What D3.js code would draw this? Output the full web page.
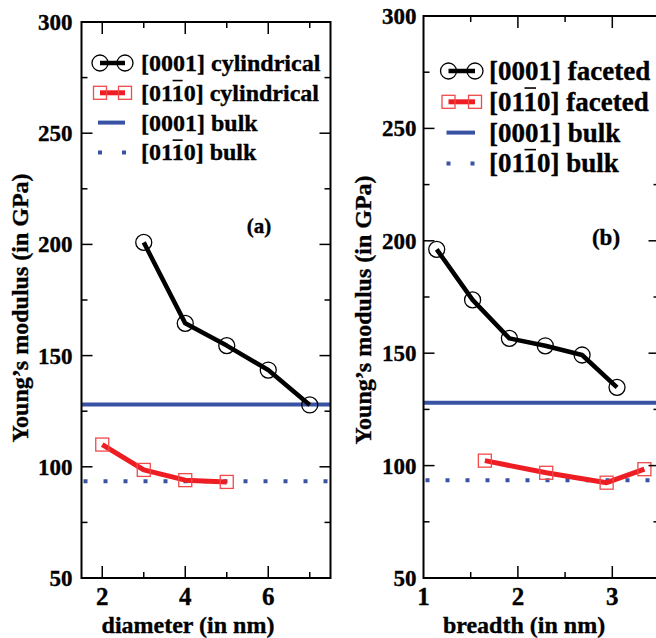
<!DOCTYPE html>
<html><head><meta charset="utf-8">
<script src="https://cdn.jsdelivr.net/npm/d3@7"></script>
<style>
html,body{margin:0;padding:0;background:#fff;}
svg{display:block;}
text{font-family:"Liberation Serif","Tinos","Times New Roman","DejaVu Serif",serif;font-weight:bold;fill:#000;stroke:#000;stroke-width:0.35px;}
</style></head>
<body><svg id="c" width="656" height="638"></svg>
<script>
// ---- data ----
const diameterCyl0001 = [3, 4, 5, 6, 7];
const youngCyl0001 = [200.9, 164.5, 154.5, 143.5, 127.8];
const diameterCyl0110 = [2, 3, 4, 5];
const youngCyl0110 = [110, 98.6, 94, 93.2];
const breadthFac0001 = [1.14, 1.52, 1.91, 2.29, 2.68, 3.05];
const youngFac0001 = [196.2, 173.7, 156.6, 153.3, 149.2, 134.8];
const breadthFac0110 = [1.65, 2.30, 2.94, 3.34];
const youngFac0110 = [102.2, 96.8, 92.4, 98.4];
const bulk0001 = 128;
const bulk0110 = 93.5;
const yTicks = [50, 100, 150, 200, 250, 300];
const yMinor = [75, 125, 175, 225, 275];
const xTicksA = [2, 4, 6];
const xMinorA = [3, 5, 7];
const xTicksB = [1, 2, 3];
const xMinorB = [1.5, 2.5];
const legendA = ["[0001] cylindrical", "[01\u203E10] cylindrical", "[0001] bulk", "[01\u203E10] bulk"];
const legendB = ["[0001] faceted", "[01\u203E10] faceted", "[0001] bulk", "[01\u203E10] bulk"];

const svg = d3.select("#c");
const BLUE = "#3953a4", RED = "#ee1d23", RED2 = "#f04a4a";

function panel(cfg) {
  const {x, y} = cfg;
  const g = svg.append("g");
  const [x0, x1] = x.range(), [y0, y1] = y.range();
  const clipId = "clip" + cfg.id;
  svg.append("clipPath").attr("id", clipId).append("rect")
    .attr("x", x0).attr("y", y1).attr("width", x1 - x0).attr("height", y0 - y1);

  // bulk lines
  const pg = g.append("g").attr("clip-path", `url(#${clipId})`);
  pg.append("line").attr("x1", x0).attr("x2", x1).attr("y1", y(bulk0001)).attr("y2", y(bulk0001))
    .attr("stroke", BLUE).attr("stroke-width", 4);
  pg.append("line").attr("x1", x0 + 2).attr("x2", x1).attr("y1", y(bulk0110)).attr("y2", y(bulk0110))
    .attr("stroke", BLUE).attr("stroke-width", 4).attr("stroke-dasharray", "4,16");

  const line = d3.line().x(d => x(d[0])).y(d => y(d[1]));
  const blk = cfg.bx.map((v, i) => [v, cfg.by[i]]);
  const red = cfg.rx.map((v, i) => [v, cfg.ry[i]]);
  pg.append("path").attr("d", line(red)).attr("fill", "none").attr("stroke", RED)
    .attr("stroke-width", 5).attr("stroke-linejoin", "round");
  pg.selectAll(".sq").data(red).join("rect")
    .attr("x", d => x(d[0]) - 6.5).attr("y", d => y(d[1]) - 6.5)
    .attr("width", 13).attr("height", 13).attr("fill", "none")
    .attr("stroke", RED2).attr("stroke-width", 1.3);
  pg.append("path").attr("d", line(blk)).attr("fill", "none").attr("stroke", "#000")
    .attr("stroke-width", 4.5).attr("stroke-linejoin", "round");
  pg.selectAll(".ci").data(blk).join("circle")
    .attr("cx", d => x(d[0])).attr("cy", d => y(d[1])).attr("r", 8)
    .attr("fill", "none").attr("stroke", "#000").attr("stroke-width", 1.3);

  // frame
  g.append("rect").attr("x", x0).attr("y", y1).attr("width", x1 - x0).attr("height", y0 - y1)
    .attr("fill", "none").attr("stroke", "#000").attr("stroke-width", 2);

  // ticks
  const tk = g.append("g").attr("stroke", "#000").attr("stroke-width", 1.5);
  const yt = yTicks.filter(v => v > 50 && v < 300);
  yt.forEach(v => {
    tk.append("line").attr("x1", x0).attr("x2", x0 + 11).attr("y1", y(v)).attr("y2", y(v));
    tk.append("line").attr("x1", x1).attr("x2", x1 - 11).attr("y1", y(v)).attr("y2", y(v));
  });
  yMinor.forEach(v => {
    tk.append("line").attr("x1", x0).attr("x2", x0 + 6).attr("y1", y(v)).attr("y2", y(v));
    tk.append("line").attr("x1", x1).attr("x2", x1 - 6).attr("y1", y(v)).attr("y2", y(v));
  });
  cfg.xt.filter(v => x(v) > x0 + 1).forEach(v => {
    tk.append("line").attr("x1", x(v)).attr("x2", x(v)).attr("y1", y0).attr("y2", y0 - 12);
    tk.append("line").attr("x1", x(v)).attr("x2", x(v)).attr("y1", y1).attr("y2", y1 + 12);
  });
  cfg.xm.forEach(v => {
    tk.append("line").attr("x1", x(v)).attr("x2", x(v)).attr("y1", y0).attr("y2", y0 - 6);
    tk.append("line").attr("x1", x(v)).attr("x2", x(v)).attr("y1", y1).attr("y2", y1 + 6);
  });

  // tick labels
  g.selectAll(".yl").data(yTicks).join("text")
    .attr("x", x0 - cfg.ypad).attr("y", d => y(d)).attr("dy", "0.35em")
    .attr("text-anchor", "end").attr("font-size", 23).text(d => d);
  g.selectAll(".xl").data(cfg.xt).join("text")
    .attr("x", d => x(d)).attr("y", 605)
    .attr("text-anchor", "middle").attr("font-size", 25).text(d => d);

  // axis titles
  g.append("text").attr("x", cfg.xtx).attr("y", 633).attr("text-anchor", "middle")
    .attr("font-size", 24).text(cfg.xtitle);
  g.append("text").attr("transform", `translate(${cfg.ytx},${cfg.yty}) rotate(-90)`)
    .attr("text-anchor", "middle").attr("font-size", 24).text("Young\u2019s modulus (in GPa)");

  // panel label
  g.append("text").attr("x", cfg.lab[0]).attr("y", cfg.lab[1]).attr("text-anchor", "middle")
    .attr("font-size", cfg.lab[2]).text(cfg.label);

  // legend
  const L = cfg.leg;
  const fs = L.fs;
  if (L.box) {
    g.append("rect").attr("x", L.box[0]).attr("y", L.box[1])
      .attr("width", L.box[2]).attr("height", L.box[3]).attr("fill", "#fff");
  }
  cfg.legend.forEach((t, i) => {
    const ly = L.y0 + i * L.dy;
    if (i === 0) {
      g.append("line").attr("x1", L.a).attr("x2", L.b).attr("y1", ly).attr("y2", ly)
        .attr("stroke", "#000").attr("stroke-width", 4.5);
      [L.a, L.b].forEach(cx => g.append("circle").attr("cx", cx).attr("cy", ly).attr("r", 8)
        .attr("fill", "none").attr("stroke", "#000").attr("stroke-width", 1.3));
    } else if (i === 1) {
      g.append("line").attr("x1", L.a).attr("x2", L.b).attr("y1", ly).attr("y2", ly)
        .attr("stroke", RED).attr("stroke-width", 5);
      [L.a, L.b].forEach(cx => g.append("rect").attr("x", cx - 6.5).attr("y", ly - 6.5)
        .attr("width", 13).attr("height", 13)
        .attr("fill", "none").attr("stroke", RED2).attr("stroke-width", 1.3));
    } else if (i === 2) {
      g.append("line").attr("x1", L.a - 2).attr("x2", L.b).attr("y1", ly).attr("y2", ly)
        .attr("stroke", BLUE).attr("stroke-width", 4);
    } else {
      g.append("line").attr("x1", L.a - 2).attr("x2", L.b + 2).attr("y1", ly).attr("y2", ly)
        .attr("stroke", BLUE).attr("stroke-width", 4).attr("stroke-dasharray", "4,20");
    }
    const base = ly + fs * 0.33;
    const parts = t.split("\u203E");
    const tx = g.append("text").attr("x", L.t).attr("y", base).attr("font-size", fs);
    if (parts.length === 1) tx.text(t);
    else {
      tx.text(parts[0] + parts[1]);
      const idx = parts[0].length; // the char to overline (second "1")
      const node = tx.node();
      const s = node.getStartPositionOfChar(idx);
      const e = node.getEndPositionOfChar(idx);
      g.append("line").attr("x1", s.x + 1).attr("x2", e.x - 1)
        .attr("y1", base - fs * 0.84).attr("y2", base - fs * 0.84)
        .attr("stroke", "#000").attr("stroke-width", 1.6);
    }
  });
}

panel({
  id: "a",
  x: d3.scaleLinear().domain([1.5, 7.5]).range([81.5, 330.5]),
  y: d3.scaleLinear().domain([50, 300]).range([578, 22]),
  bx: diameterCyl0001, by: youngCyl0001, rx: diameterCyl0110, ry: youngCyl0110,
  xt: xTicksA, xm: xMinorA, ypad: 9,
  xtitle: "diameter (in nm)", xtx: 188, ytx: 28, yty: 308,
  label: "(a)", lab: [259, 233, 21],
  legend: legendA, leg: {y0: 63, dy: 29.8, a: 100, b: 125, t: 141, fs: 24}
});
panel({
  id: "b",
  x: d3.scaleLinear().domain([1, 3.5]).range([423.5, 659.5]),
  y: d3.scaleLinear().domain([50, 300]).range([578, 16]),
  bx: breadthFac0001, by: youngFac0001, rx: breadthFac0110, ry: youngFac0110,
  xt: xTicksB, xm: xMinorB, ypad: 7,
  xtitle: "breadth (in nm)", xtx: 524, ytx: 371, yty: 310,
  label: "(b)", lab: [606, 245, 23],
  legend: legendB, leg: {y0: 71, dy: 30.8, a: 448.5, b: 475, t: 489, fs: 27, box: [436, 52, 222, 126]}
});
</script></body></html>
